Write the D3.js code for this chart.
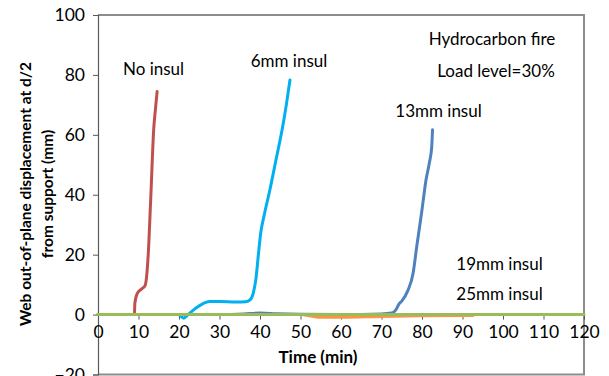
<!DOCTYPE html>
<html>
<head>
<meta charset="utf-8">
<script src="https://cdn.jsdelivr.net/npm/d3@7"></script>
<style>
  body { margin: 0; background: #fff; }
  text { font-family: Lato, "Open Sans", sans-serif; fill: #000; }
</style>
</head>
<body>
<script>
let width = 609;
let height = 376;

// series data (time in min, displacement in mm)
let noInsulT = [0, 9.0, 9.1, 9.7, 10.8, 11.6, 12.0, 12.4, 13.0, 13.8, 14.0, 14.6];
let noInsulV = [0, 0, 3.8, 7.1, 8.6, 9.6, 12.7, 20, 38, 62.8, 66, 74.5];

let mm6T = [0, 19.8, 20.5, 21.2, 22, 24, 27.5, 30, 34, 36.5, 37.6, 38.4, 39, 39.6, 40.2, 41, 42.5, 44, 45.5, 46.5, 47.4];
let mm6V = [0, 0, -0.6, -1.2, -0.3, 2, 4.4, 4.4, 4.2, 4.3, 5, 7.5, 12, 20, 27.5, 33, 42, 52, 62, 70, 78.3];

let mm13T = [0, 30, 36, 40, 44, 50, 60, 70, 72.5, 73.5, 74.3, 75, 76.5, 77.8, 78.7, 79.9, 81, 81.8, 82.4, 82.6];
let mm13V = [0, 0, 0.2, 0.5, 0.3, 0.1, 0, 0.2, 0.5, 1.5, 3.5, 4.5, 8, 13.8, 22.7, 34, 45, 50.5, 56, 61.7];

let mm19T = [0, 50, 53, 55, 60, 70, 80, 92.6];
let mm19V = [0, 0, -0.6, -0.9, -0.9, -0.6, -0.4, -0.3];

let mm25T = [0, 120];
let mm25V = [0, 0];

let xTicks = [0, 10, 20, 30, 40, 50, 60, 70, 80, 90, 100, 110, 120];
let yTicks = [-20, 0, 20, 40, 60, 80, 100];

let seriesNames = ['No insul', '6mm insul', '13mm insul', '19mm insul', '25mm insul'];
let seriesColors = ['#C0504D', '#00B0F0', '#4F81BD', '#F79646', '#9BBB59'];
let seriesT = [noInsulT, mm6T, mm13T, mm19T, mm25T];
let seriesV = [noInsulV, mm6V, mm13V, mm19V, mm25V];

let svg = d3.select('body').append('svg')
	.attr('width', width)
	.attr('height', height);

let x = d3.scaleLinear().domain([0, 120]).range([98, 584]);
let y = d3.scaleLinear().domain([-20, 100]).range([374.5, 15]);

// plot frame
svg.append('path')
	.attr('d', 'M' + x(0) + ',' + y(100) + 'H' + x(120) + 'V' + y(-20) + 'H' + x(0))
	.style('fill', 'none')
	.style('stroke', '#8c8c8c')
	.style('stroke-width', 2);

// y axis
let yAxis = svg.append('g')
	.attr('transform', 'translate(' + x(0) + ',0)')
	.call(d3.axisLeft(y).tickValues(yTicks).tickSize(5).tickPadding(8));
yAxis.select('.domain').style('stroke', '#595959').style('stroke-width', 1.2);
yAxis.selectAll('.tick line').style('stroke', '#595959');
yAxis.selectAll('text').style('font-size', '17.5px').style('font-family', 'Lato, sans-serif');

// x axis sits on y = 0
let xAxis = svg.append('g')
	.attr('transform', 'translate(0,' + y(0) + ')')
	.call(d3.axisBottom(x).tickValues(xTicks).tickSize(5).tickPadding(6));
xAxis.select('.domain').style('stroke', '#595959');
xAxis.selectAll('.tick line').style('stroke', '#595959');
xAxis.selectAll('text').style('font-size', '17.5px').style('font-family', 'Lato, sans-serif');

// lines
let line = d3.line()
	.x(d => x(d[0]))
	.y(d => y(d[1]))
	.curve(d3.curveMonotoneX);

for (let i = 0; i < seriesNames.length; i++) {
	let pts = seriesT[i].map((t, j) => [t, seriesV[i][j]]);
	svg.append('path')
		.datum(pts)
		.attr('d', line)
		.style('fill', 'none')
		.style('stroke', seriesColors[i])
		.style('stroke-width', 3)
		.style('stroke-linejoin', 'round')
		.style('stroke-linecap', 'round');
}

// annotations
let notes = [
	['No insul', 153.5, 75],
	['6mm insul', 289, 67],
	['Hydrocarbon fire', 492, 45],
	['Load level=30%', 496, 77],
	['13mm insul', 438.5, 117],
	['19mm insul', 499.5, 270],
	['25mm insul', 499.5, 300]
];
for (let n of notes) {
	svg.append('text')
		.attr('x', n[1])
		.attr('y', n[2])
		.attr('text-anchor', 'middle')
		.style('font-size', '17px')
		.text(n[0]);
}

// axis titles
svg.append('text')
	.attr('x', 318)
	.attr('y', 363)
	.attr('text-anchor', 'middle')
	.style('font-size', '17px')
	.style('font-weight', 'bold')
	.text('Time (min)');

let yTitle = svg.append('text')
	.attr('transform', 'translate(31,194) rotate(-90)')
	.attr('text-anchor', 'middle')
	.style('font-size', '15.5px')
	.style('font-weight', 'bold');
yTitle.append('tspan').attr('x', 0).attr('dy', 0).text('Web out-of-plane displacement at d/2');
yTitle.append('tspan').attr('x', 0).attr('dy', 22).text('from support (mm)');
</script>
</body>
</html>
